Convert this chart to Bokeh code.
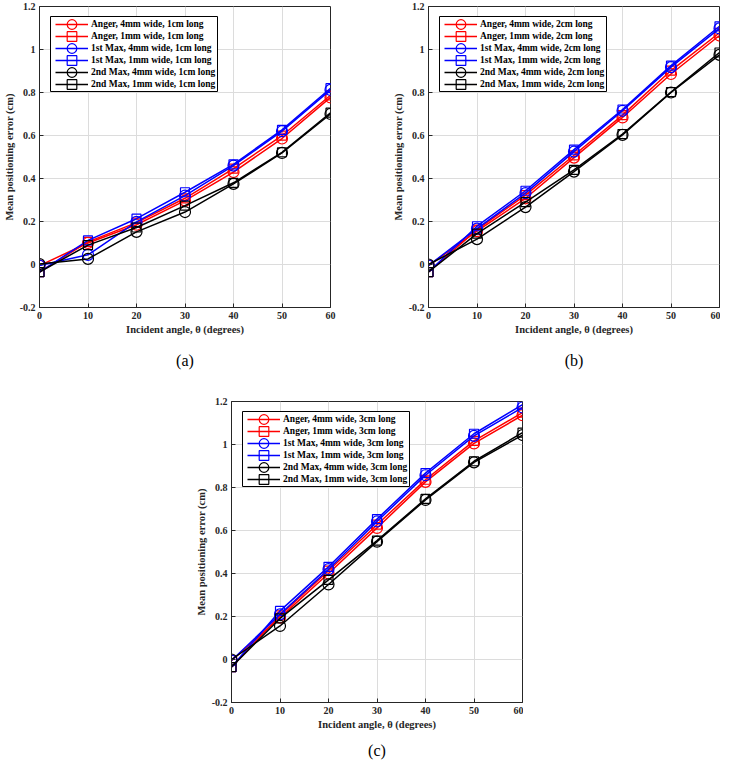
from bokeh.plotting import figure
from bokeh.layouts import column, row, Spacer
from bokeh.models import (Range1d, FixedTicker, CustomJSTickFormatter, Title,
                          Legend, LegendItem, BoxAnnotation)
from bokeh.embed import file_html
from bokeh.resources import INLINE

# ---------------- data ----------------
angles = [0, 10, 20, 30, 40, 50, 60]
x_ticks = [0, 10, 20, 30, 40, 50, 60]
y_ticks = [-0.2, 0, 0.2, 0.4, 0.6, 0.8, 1.0, 1.2]

methods = ["Anger", "Anger", "1st Max", "1st Max", "2nd Max", "2nd Max"]
widths = ["4mm", "1mm", "4mm", "1mm", "4mm", "1mm"]
colors = ["#ff0000", "#ff0000", "#0000ff", "#0000ff", "#000000", "#000000"]
markers = ["circle", "square", "circle", "square", "circle", "square"]

# (a) 1 cm long
a_anger_4 = [-0.005, 0.100, 0.185, 0.297, 0.430, 0.586, 0.777]
a_anger_1 = [-0.035, 0.105, 0.195, 0.308, 0.446, 0.599, 0.787]
a_max1_4 = [-0.005, 0.045, 0.198, 0.320, 0.460, 0.620, 0.812]
a_max1_1 = [-0.035, 0.112, 0.213, 0.336, 0.466, 0.626, 0.820]
a_max2_4 = [0.002, 0.026, 0.152, 0.244, 0.375, 0.519, 0.700]
a_max2_1 = [-0.035, 0.090, 0.172, 0.274, 0.380, 0.522, 0.706]

# (b) 2 cm long
b_anger_4 = [-0.005, 0.155, 0.308, 0.497, 0.684, 0.886, 1.065]
b_anger_1 = [-0.035, 0.162, 0.323, 0.508, 0.695, 0.902, 1.078]
b_max1_4 = [-0.005, 0.167, 0.332, 0.525, 0.715, 0.918, 1.098]
b_max1_1 = [-0.035, 0.178, 0.343, 0.534, 0.721, 0.925, 1.108]
b_max2_4 = [0.000, 0.118, 0.267, 0.432, 0.603, 0.800, 0.975]
b_max2_1 = [-0.035, 0.144, 0.290, 0.440, 0.607, 0.802, 0.986]

# (c) 3 cm long
c_anger_4 = [-0.005, 0.195, 0.400, 0.612, 0.826, 1.005, 1.136]
c_anger_1 = [-0.035, 0.205, 0.413, 0.627, 0.836, 1.017, 1.148]
c_max1_4 = [-0.005, 0.210, 0.420, 0.642, 0.857, 1.040, 1.172]
c_max1_1 = [-0.035, 0.226, 0.431, 0.653, 0.867, 1.050, 1.185]
c_max2_4 = [0.000, 0.156, 0.349, 0.548, 0.742, 0.917, 1.044]
c_max2_1 = [-0.035, 0.191, 0.370, 0.553, 0.747, 0.922, 1.055]

FONT = "Liberation Serif"
AXC = "#262626"
FRAME_W = 291
FRAME_H = 301

# legend geometry (screen px, relative to the frame's bottom-left corner)
LEG_BOX_LEFT = 11
LEG_BOX_W = 167
LEG_BOX_TOP = 10      # from frame top
LEG_BOX_H = 75
ROW_PITCH = 12
FIRST_ROW = 8.3       # first row centre below box top


def make_panel(series, length, caption, bottom_border, right_border, cap_standoff):
    p = figure(frame_width=FRAME_W, frame_height=FRAME_H, output_backend="svg",
               toolbar_location=None, title=None,
               x_range=Range1d(0, 60), y_range=Range1d(-0.2, 1.2),
               min_border_top=6, min_border_left=0,
               min_border_bottom=bottom_border, min_border_right=right_border)
    p.background_fill_color = "white"
    p.border_fill_color = "white"
    p.outline_line_color = AXC
    p.outline_line_width = 1

    p.xaxis.ticker = FixedTicker(ticks=x_ticks)
    p.yaxis.ticker = FixedTicker(ticks=y_ticks)
    p.yaxis.formatter = CustomJSTickFormatter(
        code="return (Math.round(tick*10)/10).toString();")
    for ax in (p.xaxis[0], p.yaxis[0]):
        ax.major_tick_in = 4
        ax.major_tick_out = 0
        ax.minor_tick_line_color = None
        ax.axis_line_color = AXC
        ax.major_tick_line_color = AXC
        ax.major_label_text_font = FONT
        ax.major_label_text_font_style = "bold"
        ax.major_label_text_font_size = "10px"
        ax.major_label_text_color = AXC
        ax.major_label_standoff = 4
        ax.axis_label_text_font = FONT
        ax.axis_label_text_font_style = "bold"
        ax.axis_label_text_font_size = "10.5px"
        ax.axis_label_text_color = AXC
        ax.axis_label_standoff = 2
    p.xaxis.axis_label = "Incident angle, θ (degrees)"
    p.yaxis.axis_label = "Mean positioning error (cm)"

    p.grid.grid_line_color = "#dcdcdc"
    p.grid.grid_line_width = 1

    items = []
    for vals, m, w, c, mk in zip(series, methods, widths, colors, markers):
        lab = f"{m}, {w} wide, {length} long"
        r1 = p.line(angles, vals, line_color=c, line_width=1.5)
        r2 = p.scatter(angles, vals, marker=mk, size=11 if mk == "circle" else 9,
                       fill_color=None, line_color=c, line_width=1.2)
        items.append(LegendItem(label=lab, renderers=[r1, r2]))

    # legend frame (white box with black border)
    box_top = FRAME_H - LEG_BOX_TOP
    box = BoxAnnotation(left=LEG_BOX_LEFT, right=LEG_BOX_LEFT + LEG_BOX_W,
                        top=box_top, bottom=box_top - LEG_BOX_H,
                        left_units="screen", right_units="screen",
                        top_units="screen", bottom_units="screen",
                        fill_color="white", fill_alpha=1.0,
                        line_color="#000000", line_width=1, line_alpha=1.0)
    p.add_layout(box)

    # two interleaved legends so that rows can be 12 px apart with big markers
    gh = 2 * ROW_PITCH
    for k in range(2):
        sub = items[k::2]
        first_centre = LEG_BOX_TOP + FIRST_ROW + k * ROW_PITCH
        top_from_frame_top = first_centre - gh / 2
        y_bottom = FRAME_H - top_from_frame_top - gh * len(sub)
        lg = Legend(items=sub, location=(LEG_BOX_LEFT + 5, y_bottom),
                    margin=0, padding=0, spacing=0,
                    glyph_width=33, glyph_height=gh, label_height=gh,
                    label_standoff=3,
                    label_text_font=FONT, label_text_font_style="bold",
                    label_text_font_size="9.5px", label_text_color="#000000",
                    border_line_color=None, background_fill_alpha=0.0)
        p.add_layout(lg)

    # sub-figure caption below the axis title
    p.add_layout(Title(text=caption, align="center", text_font=FONT,
                       text_font_style="normal", text_font_size="16px",
                       text_color="#000000", standoff=cap_standoff), "below")
    return p


pa = make_panel([a_anger_4, a_anger_1, a_max1_4, a_max1_1, a_max2_4, a_max2_1],
                "1cm", "(a)", 88, 59, 24)
pb = make_panel([b_anger_4, b_anger_1, b_max1_4, b_max1_1, b_max2_4, b_max2_1],
                "2cm", "(b)", 88, 1, 24)
pc = make_panel([c_anger_4, c_anger_1, c_max1_4, c_max1_1, c_max2_4, c_max2_1],
                "3cm", "(c)", 50, 1, 15)

layout = column(row(pa, pb), row(Spacer(width=192, height=10), pc))

open("out.html", "w").write(file_html(layout, INLINE))
